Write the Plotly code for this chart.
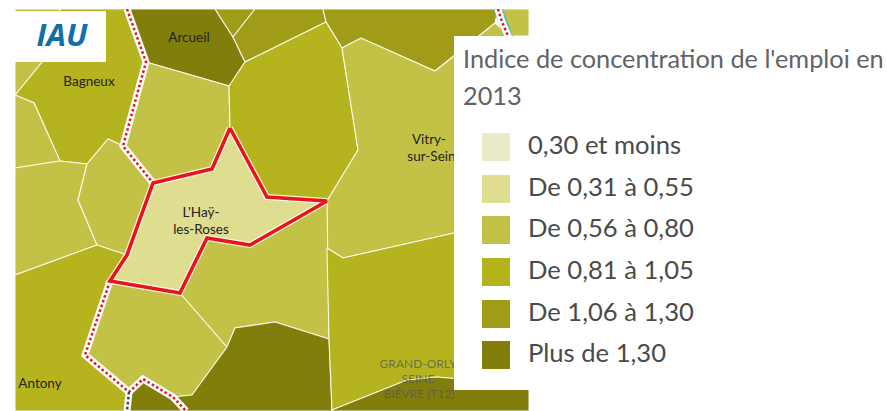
import plotly.graph_objects as go

# Class colours and labels
class_colors = ["#EBEBC8", "#DFDD8F", "#C3C247", "#B5B41F", "#A09C18", "#827E0C"]
class_labels = ["0,30 et moins", "De 0,31 à 0,55", "De 0,56 à 0,80",
                "De 0,81 à 1,05", "De 1,06 à 1,30", "Plus de 1,30"]
legend_title = ["Indice de concentration de l'emploi en", "2013"]

# Communes: (class index, outline)
bagneux = (3, [(60,9),(127,9),(146,62),(123,146),(108,139),(87,164),(60,161),(34,103),(15,95),(42,62)])
nw_corner = (2, [(15,9),(60,9),(52,40),(42,62),(15,95)])
arcueil = (5, [(127,9),(215,9),(233,37),(245,62),(229,86),(146,62)])
north_a = (4, [(215,9),(255,9),(233,37)])
north_b = (4, [(255,9),(323,9),(326,22),(245,62),(233,37)])
centre_n = (2, [(146,62),(229,86),(230,128),(212,169),(152,183),(123,146)])
centre_e = (3, [(229,86),(245,62),(326,22),(342,48),(358,150),(327,201),(267,197),(230,128)])
north_c = (4, [(323,9),(498,9),(495,23),(435,71),(361,38),(342,48),(326,22)])
vitry = (2, [(342,48),(361,38),(435,71),(495,23),(510,36),(529,36),(529,240),(454,233),(343,258),(327,248),(327,201),(358,150)])
ne_corner = (2, [(500,9),(529,9),(529,36),(509,36)])
west_a = (2, [(15,95),(34,103),(60,161),(15,168)])
west_b = (2, [(15,168),(60,161),(87,164),(78,200),(97,245),(15,275)])
west_c = (2, [(108,139),(123,146),(152,183),(127,255),(97,245),(78,200),(87,164)])
antony = (3, [(15,275),(97,245),(127,255),(110,281),(85,355),(129,392),(127,411),(15,411)])
south = (2, [(110,281),(180,293),(227,347),(192,395),(173,397),(143,379),(129,392),(85,355)])
south_dark_a = (5, [(127,411),(129,392),(143,379),(173,397),(186,411)])
south_dark_b = (5, [(173,397),(192,395),(227,347),(235,328),(275,322),(329,339),(332,411),(186,411)])
south_e = (2, [(180,293),(207,238),(250,245),(327,201),(329,339),(275,322),(235,328),(227,347)])
se_main = (3, [(327,248),(343,258),(454,233),(529,225),(529,385),(437,377),(407,380),(332,410),(329,339)])
se_dark = (5, [(332,410),(407,380),(437,377),(529,385),(529,411),(332,411)])
hay = (1, [(230,128),(212,169),(153,183),(127,255),(110,281),(180,293),(207,238),(250,245),(327,201),(267,197),(230,128)])

communes = [bagneux, nw_corner, arcueil, north_a, north_b, north_c, centre_n, centre_e, vitry, ne_corner,
            west_a, west_b, west_c, antony, south, south_e, south_dark_a, south_dark_b, se_main, se_dark]

# Territory boundaries (dotted red on white)
boundary_a = [(127,9),(146,62),(123,146),(153,183)]
boundary_b = [(110,281),(85,355),(129,392),(143,379),(173,397),(186,411)]
boundary_c = [(498,9),(502,22),(509,38)]
boundary_dark = [(129,392),(127,411)]

# Place names: (text, x, y)
place_names = [("Arcueil",189,39),("Bagneux",89,83),("Vitry-",429,141),("sur-Seine",435,158),
               ("L'Haÿ-",201,214),("les-Roses",201,231),("Antony",40,385)]
cut_name = [("Saint",411,6)]
territory_names = [("GRAND-ORLY",418,365),("SEINE",418,380),("BIÈVRE (T12)",419,395)]

# Legend layout
legend_y = [146,188,229,271,313,354]

fig = go.Figure()

def xy(pts):
    return [p[0] for p in pts], [p[1] for p in pts]

def poly(pts, fill, line="rgba(255,255,255,0.85)", w=1.1):
    x, y = xy(pts)
    fig.add_trace(go.Scatter(x=x+[x[0]], y=y+[y[0]], mode="lines", fill="toself", fillcolor=fill,
                             line=dict(color=line, width=w), hoverinfo="skip", showlegend=False))

def path(pts, color, w, dash="solid"):
    x, y = xy(pts)
    fig.add_trace(go.Scatter(x=x, y=y, mode="lines", line=dict(color=color, width=w, dash=dash),
                             hoverinfo="skip", showlegend=False))

def text(items, size, color, family="Lato", anchor="middle center"):
    fig.add_trace(go.Scatter(x=[i[1] for i in items], y=[i[2] for i in items], text=[i[0] for i in items],
                             mode="text", textposition=anchor, textfont=dict(size=size, color=color, family=family),
                             hoverinfo="skip", showlegend=False))

for cls, pts in communes:
    poly(pts, class_colors[cls])

path(boundary_c, "#4CC4B8", 9)
for b in (boundary_a, boundary_b, boundary_c):
    path(b, "#FFFFFF", 7)
    path(b, "#E8141A", 2.5, "2.5px,2.5px")
path(boundary_dark, "#FFFFFF", 7)
path(boundary_dark, "#3A4250", 2.5, "2.5px,2.5px")

poly(hay[1], class_colors[hay[0]], "rgba(255,255,255,0.85)", 6)
path(hay[1], "#E8141A", 3.6)

text(place_names, 13.5, "#222222")
text(cut_name, 11, "#222222")
text(territory_names, 12, "rgba(85,85,85,0.75)")

# masks
poly([(0,0),(887,0),(887,9),(0,9)], "#FFFFFF", "#FFFFFF", 0)
poly([(15,11),(106,11),(106,62),(15,62)], "#FFFFFF", "#FFFFFF", 0)
poly([(454,36),(887,36),(887,390),(454,390)], "#FFFFFF", "#FFFFFF", 0)

text([("<b><i>IAU</i></b>",62,38)], 31, "#0F6FA8", "Open Sans")
text([(legend_title[0],463,62),(legend_title[1],463,99)], 25.3, "#5F6368", "Lato", "middle right")

fig.add_trace(go.Scatter(x=[496]*6, y=[y+1 for y in legend_y], mode="markers",
                         marker=dict(symbol="square", size=28, color=class_colors, line=dict(width=0)),
                         hoverinfo="skip", showlegend=False))
text([(l,528,y+2) for l,y in zip(class_labels,legend_y)], 25.6, "#4A4A4A", "Lato", "middle right")

fig.update_layout(width=887, height=411, margin=dict(l=0,r=0,t=0,b=0), autosize=False,
                  paper_bgcolor="#FFFFFF", plot_bgcolor="#FFFFFF", showlegend=False,
                  xaxis=dict(range=[0,887], visible=False, fixedrange=True),
                  yaxis=dict(range=[411,0], visible=False, fixedrange=True))
fig.write_html("out.html", config=dict(displayModeBar=False),
               post_script="document.body.style.margin='0';document.body.style.overflow='hidden';")
